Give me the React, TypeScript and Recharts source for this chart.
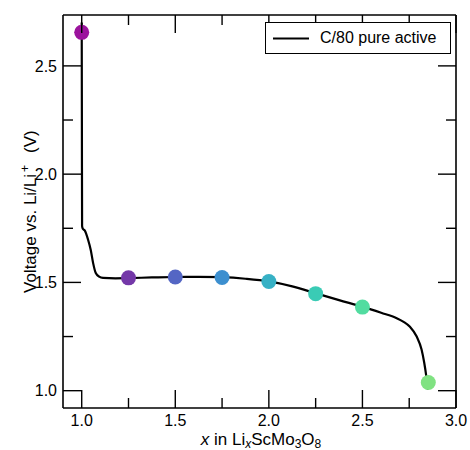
import {
  ComposedChart,
  Line,
  Scatter,
  XAxis,
  YAxis,
} from "recharts";

// discharge curve
const curveX = [
  1.0, 1.001, 1.002, 1.006, 1.016, 1.034, 1.048, 1.061, 1.075, 1.093, 1.114, 1.18,
  1.25, 1.375, 1.5, 1.625, 1.75, 1.875, 2.0, 2.125, 2.25, 2.375, 2.5, 2.6, 2.683,
  2.72, 2.754, 2.79, 2.816, 2.83, 2.84, 2.847, 2.85,
];
const curveV = [
  2.70, 2.2, 1.76, 1.748, 1.74, 1.697, 1.651, 1.589, 1.543, 1.527, 1.521, 1.519,
  1.52, 1.523, 1.525, 1.526, 1.524, 1.517, 1.505, 1.482, 1.45, 1.418, 1.388, 1.36,
  1.335, 1.318, 1.295, 1.25, 1.19, 1.13, 1.074, 1.02, 1.005,
];

// coloured state-of-charge markers
const markerX = [1.0, 1.25, 1.5, 1.75, 2.0, 2.25, 2.5, 2.852];
const markerV = [2.655, 1.521, 1.525, 1.523, 1.504, 1.448, 1.386, 1.038];
const markerColors = [
  "#9b139d", "#7438a8", "#5466c4", "#3c8fcf", "#37b1c5", "#3acbb5", "#52dca0", "#80e282",
];

const xMajor = [1.0, 1.5, 2.0, 2.5, 3.0];
const xMinor = [1.25, 1.75, 2.25, 2.75];
const yMajor = [1.0, 1.5, 2.0, 2.5];
const yMinor = [1.25, 1.75, 2.25];

const seriesName = "C/80 pure active";

const X_DOMAIN: [number, number] = [0.9, 3.0];
const Y_DOMAIN: [number, number] = [0.92, 2.735];
const FONT = "'Liberation Sans', Arial, Helvetica, sans-serif";
const AX = { stroke: "#000", strokeWidth: 1.6 };
const MAJOR_LEN = 18;
const MINOR_LEN = 10;

const curve = curveX.map((x, i) => ({ x, v: curveV[i] }));
const markers = markerX.map((x, i) => ({ x, v: markerV[i], color: markerColors[i] }));

const isMajor = (v: number, majors: number[]) => majors.some((m) => Math.abs(m - v) < 1e-6);

// ticks point inward on every side (matplotlib "direction: in"); labels only on bottom/left
function makeTick(side: "bottom" | "top" | "left" | "right") {
  return (p: any) => {
    const { x, y, payload } = p;
    const v = payload.value as number;
    const major = isMajor(v, side === "bottom" || side === "top" ? xMajor : yMajor);
    const len = major ? MAJOR_LEN : MINOR_LEN;
    const line =
      side === "bottom" ? { x1: x, x2: x, y1: y, y2: y - len }
      : side === "top" ? { x1: x, x2: x, y1: y, y2: y + len }
      : side === "left" ? { x1: x, x2: x + len, y1: y, y2: y }
      : { x1: x, x2: x - len, y1: y, y2: y };
    return (
      <g>
        <line {...line} stroke="#000" strokeWidth={1.4} />
        {major && side === "bottom" && (
          <text x={x} y={y + 17.5} textAnchor="middle" fontSize={16} fill="#000" fontFamily={FONT}>
            {v.toFixed(1)}
          </text>
        )}
        {major && side === "left" && (
          <text x={x - 6} y={y + 5.7} textAnchor="end" fontSize={16} fill="#000" fontFamily={FONT}>
            {v.toFixed(1)}
          </text>
        )}
      </g>
    );
  };
}

function XTitle({ viewBox }: any) {
  const cx = viewBox.x + viewBox.width / 2 + 1.5;
  return (
    <text x={cx} y={445} textAnchor="middle" fontSize={17} fill="#000" fontFamily={FONT}>
      <tspan fontStyle="italic">x</tspan>
      <tspan> in Li</tspan>
      <tspan fontStyle="italic" fontSize={12} dy={2.5}>x</tspan>
      <tspan dy={-2.5}>ScMo</tspan>
      <tspan fontSize={12} dy={2.5}>3</tspan>
      <tspan dy={-2.5}>O</tspan>
      <tspan fontSize={12} dy={2.5}>8</tspan>
    </text>
  );
}

function YTitle() {
  const x = 36;
  const y0 = 293;
  return (
    <text
      x={x}
      y={y0}
      textAnchor="start"
      fontSize={17}
      fill="#000"
      fontFamily={FONT}
      transform={`rotate(-90, ${x}, ${y0})`}
    >
      <tspan>Voltage vs. Li/Li</tspan>
      <tspan fontSize={12} dx={2} dy={-7}>+</tspan>
      <tspan dx={12} dy={7}>(V)</tspan>
    </text>
  );
}

function Dot(props: any) {
  return <circle cx={props.cx} cy={props.cy} r={7.5} fill={props.payload.color} />;
}

export default function App() {
  return (
    <div style={{ position: "absolute", left: 0, top: 0, width: 470, height: 450, fontFamily: FONT }}>
      <ComposedChart
        width={470}
        height={450}
        margin={{ top: 14, right: 13, bottom: 0, left: 0 }}
        style={{ fontFamily: FONT }}
      >
        <XAxis
          xAxisId="x"
          dataKey="x"
          type="number"
          domain={X_DOMAIN}
          allowDataOverflow
          ticks={[...xMajor, ...xMinor]}
          interval={0}
          tick={makeTick("bottom")}
          tickSize={0.0001}
          tickMargin={0}
          tickLine={false}
          axisLine={AX}
          height={42}
          label={<XTitle />}
        />
        <XAxis
          xAxisId="xt"
          dataKey="x"
          orientation="top"
          type="number"
          domain={X_DOMAIN}
          allowDataOverflow
          ticks={[...xMajor, ...xMinor]}
          interval={0}
          tick={makeTick("top")}
          tickSize={0.0001}
          tickMargin={0}
          tickLine={false}
          axisLine={AX}
          height={1}
        />
        <YAxis
          yAxisId="y"
          type="number"
          domain={Y_DOMAIN}
          allowDataOverflow
          ticks={[...yMajor, ...yMinor]}
          interval={0}
          tick={makeTick("left")}
          tickSize={0.0001}
          tickMargin={0}
          tickLine={false}
          axisLine={AX}
          width={63}
          label={<YTitle />}
        />
        <YAxis
          yAxisId="yr"
          orientation="right"
          type="number"
          domain={Y_DOMAIN}
          allowDataOverflow
          ticks={[...yMajor, ...yMinor]}
          interval={0}
          tick={makeTick("right")}
          tickSize={0.0001}
          tickMargin={0}
          tickLine={false}
          axisLine={AX}
          width={1}
        />
        <Line
          xAxisId="x"
          yAxisId="y"
          data={curve}
          dataKey="v"
          type="monotone"
          stroke="#000"
          strokeWidth={2.2}
          dot={false}
          activeDot={false}
          isAnimationActive={false}
          name={seriesName}
        />
        {/* markers ride the top/right axes, which share the bottom/left scales */}
        <Scatter
          xAxisId="xt"
          yAxisId="yr"
          data={markers}
          dataKey="v"
          shape={<Dot />}
          isAnimationActive={false}
        />
      </ComposedChart>
      <div
        style={{
          position: "absolute",
          left: 265,
          top: 22,
          width: 184,
          height: 30,
          border: "1.3px solid #000",
          background: "#fff",
          display: "flex",
          alignItems: "center",
        }}
      >
        <svg width={50} height={30} style={{ display: "block" }}>
          <line x1={7} x2={43} y1={15.5} y2={15.5} stroke="#000" strokeWidth={2.2} />
        </svg>
        <span style={{ fontSize: 16, color: "#000", fontFamily: FONT, marginLeft: 4 }}>
          {seriesName}
        </span>
      </div>
    </div>
  );
}
